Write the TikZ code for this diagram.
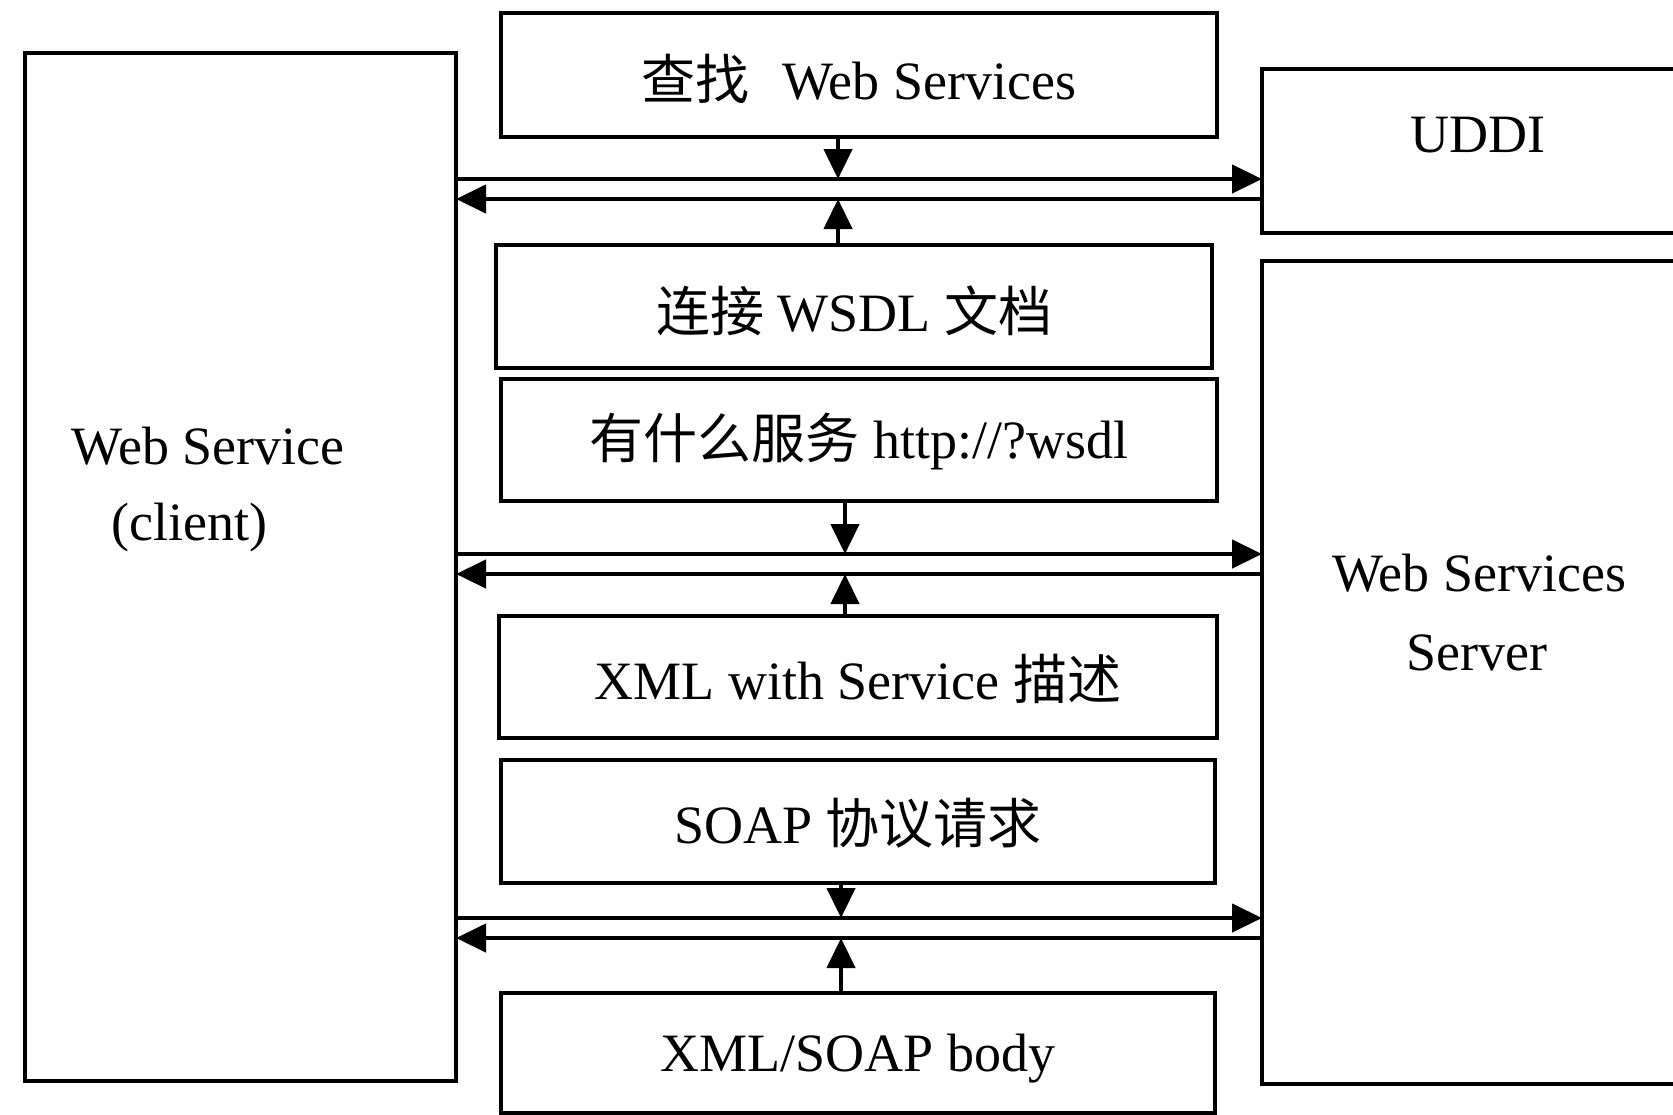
\documentclass[tikz,border=0pt]{standalone}
\usepackage{fontspec}
\setmainfont{Liberation Serif}
\newfontfamily\cjk{Noto Sans CJK SC}
\usetikzlibrary{arrows.meta,fit}

\begin{document}
\begin{tikzpicture}[x=0.5pt,y=-0.5pt,
  box/.style={draw, line width=2pt, inner sep=0pt, outer sep=0pt},
  lbl/.style={inner sep=0pt, font=\fontsize{27}{30}\selectfont},
  arr/.style={line width=2.2pt, -{Triangle[length=15pt,width=14pt]}}]

\clip (0,0) rectangle (1673,1114);
\fill[white] (0,0) rectangle (1673,1114);

% side boxes
\node[box, fit={(25,53) (456,1081)}] (client) {};
\node[box, fit={(1262,69) (1700,233)}] (uddi) {};
\node[box, fit={(1262,261) (1700,1084)}] (server) {};

\node[lbl] (clientA) at (208,446) {Web Service};
\node[lbl] (clientB) at (189,528) {(client)};
\node[lbl] (uddiL) at (1478,135) {UDDI};
\node[lbl] (serverA) at (1479,573) {Web Services};
\node[lbl] (serverB) at (1477,653) {Server};

% middle column of messages
\node[box, fit={(501,13) (1217,137)}] (b1) {};
\node[box, fit={(496,245) (1212,368)}] (b2) {};
\node[box, fit={(501,379) (1217,501)}] (b3) {};
\node[box, fit={(499,616) (1217,738)}] (b4) {};
\node[box, fit={(501,760) (1215,883)}] (b5) {};
\node[box, fit={(501,993) (1215,1113)}] (b6) {};

\node[lbl] (b1t) at ([yshift=-2pt]b1.center) {{\cjk 查找}\hspace{0.6em}Web Services};
\node[lbl] (b2t) at ([yshift=-2pt]b2.center) {{\cjk 连接} WSDL {\cjk 文档}};
\node[lbl] (b3t) at ([yshift=-1pt]b3.center) {{\cjk 有什么服务} http://?wsdl};
\node[lbl] (b4t) at ([yshift=-1pt]b4.center) {XML with Service {\cjk 描述}};
\node[lbl] (b5t) at ([yshift=-1pt]b5.center) {SOAP {\cjk 协议请求}};
\node[lbl] (b6t) at ([yshift=-3pt]b6.center) {XML/SOAP body};

% meeting points on the horizontal connectors
\coordinate (r1t) at (838,179);
\coordinate (r1b) at (838,199);
\coordinate (r2t) at (845,554);
\coordinate (r2b) at (845,574);
\coordinate (r3t) at (841,918);
\coordinate (r3b) at (841,938);

% row 1: client <-> UDDI
\draw[arr] (client.east |- r1t) -- (uddi.west |- r1t);
\draw[arr] (uddi.west |- r1b) -- (client.east |- r1b);
\draw[arr] (b1.south -| r1t) -- (r1t);
\draw[arr] (b2.north -| r1b) -- (r1b);

% row 2: client <-> server (WSDL)
\draw[arr] (client.east |- r2t) -- (server.west |- r2t);
\draw[arr] (server.west |- r2b) -- (client.east |- r2b);
\draw[arr] (b3.south -| r2t) -- (r2t);
\draw[arr] (b4.north -| r2b) -- (r2b);

% row 3: client <-> server (SOAP)
\draw[arr] (client.east |- r3t) -- (server.west |- r3t);
\draw[arr] (server.west |- r3b) -- (client.east |- r3b);
\draw[arr] (b5.south -| r3t) -- (r3t);
\draw[arr] (b6.north -| r3b) -- (r3b);

\end{tikzpicture}
\end{document}
